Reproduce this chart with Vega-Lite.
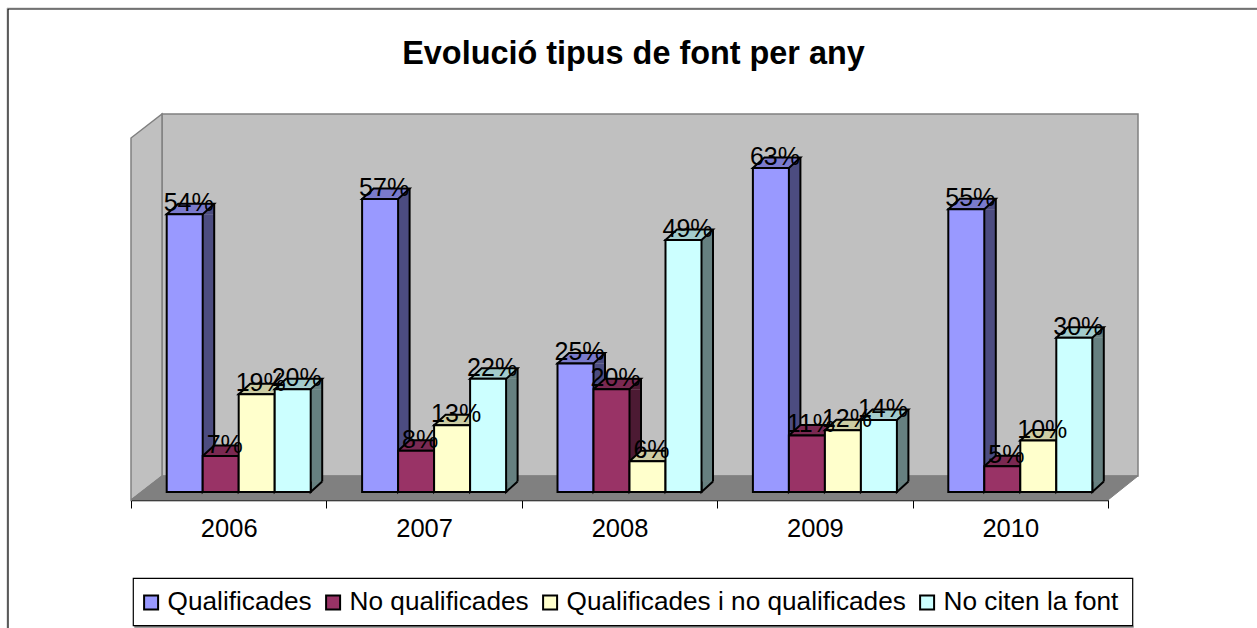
{
"$schema":"https://vega.github.io/schema/vega-lite/v6.json",
"width":977,"height":388,
"autosize":{"type":"none"},
"padding":{"left":131,"top":112,"right":149,"bottom":128},
"background":"white",
"title":{"text":"Evolució tipus de font per any","font":"Liberation Sans","fontSize":32.4,"fontWeight":"bold","color":"black","anchor":"middle","dx":14,"offset":0,"dy":64},
"config":{"view":{"stroke":null},"font":"Liberation Sans"},
"data":{"values":[
{"any":"2006","serie":"Qualificades","valor":0.54},{"any":"2006","serie":"No qualificades","valor":0.07},{"any":"2006","serie":"Qualificades i no qualificades","valor":0.19},{"any":"2006","serie":"No citen la font","valor":0.20},
{"any":"2007","serie":"Qualificades","valor":0.57},{"any":"2007","serie":"No qualificades","valor":0.08},{"any":"2007","serie":"Qualificades i no qualificades","valor":0.13},{"any":"2007","serie":"No citen la font","valor":0.22},
{"any":"2008","serie":"Qualificades","valor":0.25},{"any":"2008","serie":"No qualificades","valor":0.20},{"any":"2008","serie":"Qualificades i no qualificades","valor":0.06},{"any":"2008","serie":"No citen la font","valor":0.49},
{"any":"2009","serie":"Qualificades","valor":0.63},{"any":"2009","serie":"No qualificades","valor":0.11},{"any":"2009","serie":"Qualificades i no qualificades","valor":0.12},{"any":"2009","serie":"No citen la font","valor":0.14},
{"any":"2010","serie":"Qualificades","valor":0.55},{"any":"2010","serie":"No qualificades","valor":0.05},{"any":"2010","serie":"Qualificades i no qualificades","valor":0.10},{"any":"2010","serie":"No citen la font","valor":0.30}
]},
"encoding":{
"x":{"field":"any","type":"nominal","title":null,"sort":null,"scale":{"domain":["2006","2007","2008","2009","2010"],"paddingInner":0,"paddingOuter":0},
"axis":{"title":null,"labelAngle":0,"labelFont":"Liberation Sans","labelFontSize":25.5,"labelColor":"black","labelPadding":8,"tickColor":"black","tickSize":8,"tickWidth":1,"domainColor":"black","domainWidth":1.5,"tickBand":"extent","grid":false}},
"y":{"field":"valor","type":"quantitative","title":null,"scale":{"domain":[-0.01556,0.739],"nice":false,"zero":false},"axis":null}
},
"layer":[
{"data":{"values":[{"any":"2006","valor":0}]},"mark":{"type":"point","filled":false,"opacity":1,"size":4,"shape":"M-221.7,136 L-221.7,-484 L1028.3,-484","stroke":"#c8c8c8","strokeWidth":1}},
{"data":{"values":[{"any":"2006","valor":0}]},"mark":{"type":"point","filled":false,"opacity":1,"size":4,"shape":"M-220.7,136 L-220.7,-483 L1028.3,-483","stroke":"black","strokeWidth":1.2}},
{"data":{"values":[{"any":"2006","valor":0}]},"mark":{"type":"point","filled":true,"opacity":1,"size":4,"shape":"M-66.7,-378 L909.3,-378 L909.3,-16 L-66.7,-16 Z","fill":"#c0c0c0","stroke":"#808080","strokeWidth":1.5}},
{"data":{"values":[{"any":"2006","valor":0}]},"mark":{"type":"point","filled":true,"opacity":1,"size":4,"shape":"M-97.7,-354 L-66.7,-378 L-66.7,-16 L-97.7,8 Z","fill":"#c0c0c0","stroke":"#808080","strokeWidth":1.5}},
{"data":{"values":[{"any":"2006","valor":0}]},"mark":{"type":"point","filled":true,"opacity":1,"size":4,"shape":"M-97.7,8 L-66.7,-16 L909.3,-16 L879.3,8 Z","fill":"#808080","stroke":"#808080","strokeWidth":1}},
{"data":{"values":[{"any":"2006","valor":0}]},"mark":{"type":"point","filled":false,"opacity":1,"size":4,"shape":"M-94.4,134.7 L905,134.7","stroke":"#808080","strokeWidth":2}},
{"data":{"values":[{"any":"2006","valor":0}]},"mark":{"type":"point","filled":true,"opacity":1,"size":4,"shape":"M-95.4,86.3 L904,86.3 L904,133.7 L-95.4,133.7 Z","fill":"white","stroke":"black","strokeWidth":1.2}},
{"mark":{"type":"bar","width":11.5,"y2Offset":-10.5,"stroke":null},
 "encoding":{"xOffset":{"field":"serie","sort":null,"scale":{"type":"band","domain":["Qualificades","No qualificades","Qualificades i no qualificades","No citen la font"],"range":[59.45,203.45],"paddingInner":0,"paddingOuter":0}},
 "y2":{"datum":0},
 "color":{"field":"serie","sort":null,"legend":null,"scale":{"domain":["Qualificades","No qualificades","Qualificades i no qualificades","No citen la font"],"range":["#4c4c80","#4c1a33","#808066","#668080"]}}}},
{"mark":{"type":"point","filled":true,"opacity":1,"size":4,"shape":"M18,0 L29.5,-10.5 L29.5,0 Z","stroke":null},
 "encoding":{"xOffset":{"field":"serie","sort":null,"scale":{"type":"band","domain":["Qualificades","No qualificades","Qualificades i no qualificades","No citen la font"],"range":[35.7,179.7],"paddingInner":0,"paddingOuter":0}},
 "color":{"field":"serie","sort":null,"legend":null,"scale":{"domain":["Qualificades","No qualificades","Qualificades i no qualificades","No citen la font"],"range":["#4c4c80","#4c1a33","#808066","#668080"]}}}},
{"mark":{"type":"point","filled":true,"opacity":1,"size":4,"shape":"M18,-10.5 L18,0 L29.5,-10.5","stroke":"black","strokeWidth":2},
 "encoding":{"xOffset":{"field":"serie","sort":null,"scale":{"type":"band","domain":["Qualificades","No qualificades","Qualificades i no qualificades","No citen la font"],"range":[35.7,179.7],"paddingInner":0,"paddingOuter":0}},"y":{"datum":0,"type":"quantitative"},
 "color":{"field":"serie","sort":null,"legend":null,"scale":{"domain":["Qualificades","No qualificades","Qualificades i no qualificades","No citen la font"],"range":["#4c4c80","#4c1a33","#808066","#668080"]}}}},
{"mark":{"type":"rule","yOffset":-10.5,"y2Offset":-10.5,"stroke":"black","strokeWidth":2},
 "encoding":{"xOffset":{"field":"serie","sort":null,"scale":{"type":"band","domain":["Qualificades","No qualificades","Qualificades i no qualificades","No citen la font"],"range":[65.2,209.2],"paddingInner":0,"paddingOuter":0}},"y2":{"datum":0}}},
{"mark":{"type":"point","filled":true,"opacity":1,"size":4,"shape":"M-18,0 L-6.5,-10.5 L29.5,-10.5 L18,0 Z","stroke":"black","strokeWidth":2},
 "encoding":{"xOffset":{"field":"serie","sort":null,"scale":{"type":"band","domain":["Qualificades","No qualificades","Qualificades i no qualificades","No citen la font"],"range":[35.7,179.7],"paddingInner":0,"paddingOuter":0}},
 "color":{"field":"serie","sort":null,"legend":null,"scale":{"domain":["Qualificades","No qualificades","Qualificades i no qualificades","No citen la font"],"range":["#7a7acc","#7a2952","#cccca3","#a3cccc"]}}}},
{"mark":{"type":"bar","stroke":"black","strokeWidth":2},
 "encoding":{"xOffset":{"field":"serie","sort":null,"scale":{"type":"band","domain":["Qualificades","No qualificades","Qualificades i no qualificades","No citen la font"],"range":[35.7,179.7],"paddingInner":0,"paddingOuter":0}},"y2":{"datum":0},
 "color":{"field":"serie","sort":null,"scale":{"domain":["Qualificades","No qualificades","Qualificades i no qualificades","No citen la font"],"range":["#9999ff","#993366","#ffffcc","#ccffff"]},
 "legend":{"orient":"none","legendX":7,"legendY":477,"direction":"horizontal","columns":4,"title":null,"symbolType":"square","symbolSize":196,"symbolStrokeColor":"black","symbolStrokeWidth":2,"labelFont":"Liberation Sans","labelFontSize":26.2,"labelColor":"black","labelOffset":3.4,"columnPadding":8,"padding":0,"labelLimit":500,"rowPadding":0}}}},
{"mark":{"type":"text","font":"Liberation Sans","fontSize":25,"color":"black","align":"center","baseline":"alphabetic","dx":4,"dy":-3},
 "encoding":{"xOffset":{"field":"serie","sort":null,"scale":{"type":"band","domain":["Qualificades","No qualificades","Qualificades i no qualificades","No citen la font"],"range":[35.7,179.7],"paddingInner":0,"paddingOuter":0}},"text":{"field":"valor","type":"quantitative","format":".0%"}}}
],
"resolve":{"scale":{"color":"independent","xOffset":"independent"}}
}
